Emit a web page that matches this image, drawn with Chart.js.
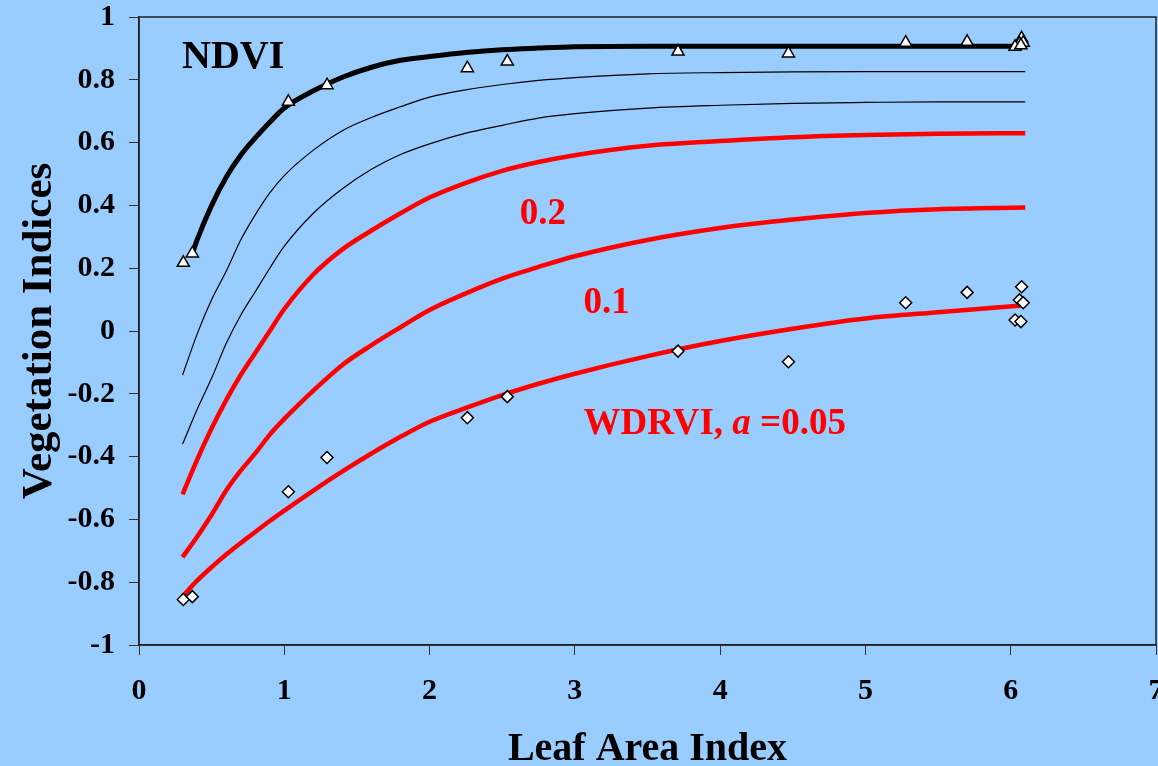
<!DOCTYPE html>
<html>
<head>
<meta charset="utf-8">
<title>Vegetation indices vs LAI</title>
<script src="https://cdn.jsdelivr.net/npm/chart.js@4.4.1/dist/chart.umd.min.js"></script>
<style>
  html, body { margin: 0; padding: 0; background: #99ccff; overflow: hidden; }
  #wrap { width: 1158px; height: 766px; position: relative; }
</style>
</head>
<body>
<div id="wrap"><canvas id="chart"></canvas></div>
<script>
// LAI grid used for the model curves
const laiGrid = [0.3, 0.4, 0.5, 0.6, 0.7, 0.8, 0.9, 1.0, 1.2, 1.4, 1.6, 1.8, 2.0, 2.25, 2.5, 2.75, 3.0, 3.5, 4.0, 4.5, 5.0, 5.5, 6.1];
const ndviLai = [0.37, 0.4, 0.5, 0.6, 0.7, 0.8, 0.9, 1.0, 1.2, 1.4, 1.6, 1.8, 2.0, 2.25, 2.5, 2.75, 3.0, 3.5, 4.0, 5.0, 6.1];

// model curves
const ndviCurve = [0.25, 0.29, 0.40, 0.49, 0.56, 0.615, 0.665, 0.71, 0.765, 0.808, 0.84, 0.862, 0.874, 0.887, 0.896, 0.901, 0.905, 0.907, 0.907, 0.907, 0.907];
const thinUpper = [-0.14, -0.01, 0.10, 0.19, 0.29, 0.37, 0.44, 0.495, 0.576, 0.638, 0.68, 0.714, 0.745, 0.768, 0.785, 0.798, 0.807, 0.819, 0.823, 0.825, 0.826, 0.826, 0.826];
const thinLower = [-0.36, -0.25, -0.15, -0.04, 0.05, 0.125, 0.20, 0.27, 0.375, 0.453, 0.515, 0.562, 0.596, 0.63, 0.655, 0.678, 0.692, 0.71, 0.719, 0.725, 0.728, 0.73, 0.73];
const wdrvi02 = [-0.52, -0.41, -0.31, -0.22, -0.14, -0.07, 0.0, 0.07, 0.18, 0.26, 0.32, 0.375, 0.425, 0.472, 0.51, 0.538, 0.56, 0.59, 0.605, 0.617, 0.624, 0.628, 0.63];
const wdrvi01 = [-0.72, -0.655, -0.585, -0.508, -0.445, -0.39, -0.33, -0.28, -0.19, -0.108, -0.045, 0.012, 0.067, 0.12, 0.167, 0.204, 0.238, 0.29, 0.328, 0.355, 0.376, 0.388, 0.393];
const wdrvi005 = [-0.845, -0.795, -0.752, -0.712, -0.675, -0.64, -0.605, -0.572, -0.508, -0.447, -0.39, -0.337, -0.289, -0.245, -0.204, -0.168, -0.136, -0.08, -0.032, 0.007, 0.04, 0.06, 0.082];

// observations
const obsLai = [0.305, 0.367, 1.028, 1.294, 2.26, 2.535, 3.71, 4.47, 5.277, 5.70, 6.075, 6.06, 6.086, 6.03, 6.07];
const ndviObs = [0.217, 0.247, 0.730, 0.783, 0.837, 0.858, 0.890, 0.884, 0.918, 0.921, 0.932, 0.915, 0.918, 0.905, 0.910];
const wdrviObs = [-0.855, -0.846, -0.512, -0.403, -0.276, -0.209, -0.064, -0.098, 0.090, 0.123, 0.141, 0.099, 0.090, 0.035, 0.030];

// axes
const xTickValues = [0, 1, 2, 3, 4, 5, 6, 7];
const xTickLabels = ["0", "1", "2", "3", "4", "5", "6", "7"];
const yTickValues = [-1, -0.8, -0.6, -0.4, -0.2, 0, 0.2, 0.4, 0.6, 0.8, 1];
const yTickLabels = ["-1", "-0.8", "-0.6", "-0.4", "-0.2", "0", "0.2", "0.4", "0.6", "0.8", "1"];

const FONT = "'Liberation Serif', 'Times New Roman', serif";

function pts(xs, ys) {
  return ys.map((y, i) => ({ x: xs[i], y: y }));
}

function curve(xs, ys, color, width) {
  return {
    data: pts(xs, ys),
    showLine: true,
    borderColor: color,
    borderWidth: width,
    pointRadius: 0,
    cubicInterpolationMode: "monotone",
    fill: false
  };
}

// text labels inside the plot, anchored in data units
const annotations = [
  { parts: [{ t: "NDVI", style: "bold" }], x: 0.296, y: 0.838, size: 40, color: "#000000" },
  { parts: [{ t: "0.2", style: "bold" }], x: 2.62, y: 0.341, size: 37, color: "#ff0000" },
  { parts: [{ t: "0.1", style: "bold" }], x: 3.06, y: 0.057, size: 37, color: "#ff0000" },
  { parts: [{ t: "WDRVI, ", style: "bold" }, { t: "a", style: "italic bold" }, { t: " =0.05", style: "bold" }], x: 3.06, y: -0.328, size: 37, color: "#ff0000" }
];

const backgroundPlugin = {
  id: "bg",
  beforeDraw(chart) {
    const ctx = chart.ctx;
    ctx.save();
    ctx.fillStyle = "#99ccff";
    ctx.fillRect(0, 0, chart.width, chart.height);
    ctx.restore();
  },
  afterDraw(chart) {
    const { ctx, chartArea: a, scales } = chart;
    ctx.save();
    // frame round the plot area
    ctx.strokeStyle = "#222222";
    ctx.lineWidth = 1.5;
    ctx.strokeRect(a.left, a.top, a.right - a.left, a.bottom - a.top);
    // labels
    ctx.textBaseline = "alphabetic";
    ctx.textAlign = "left";
    annotations.forEach((an) => {
      let px = scales.x.getPixelForValue(an.x);
      const py = scales.y.getPixelForValue(an.y);
      ctx.fillStyle = an.color;
      an.parts.forEach((p) => {
        ctx.font = p.style + " " + an.size + "px " + FONT;
        ctx.fillText(p.t, px, py);
        px += ctx.measureText(p.t).width;
      });
    });
    ctx.restore();
  }
};

new Chart(document.getElementById("chart"), {
  type: "scatter",
  data: {
    datasets: [
      {
        data: pts(obsLai, ndviObs),
        pointStyle: "triangle",
        pointRadius: 7,
        backgroundColor: "#ffffff",
        borderColor: "#000000",
        borderWidth: 1.5,
        clip: false
      },
      {
        data: pts(obsLai, wdrviObs),
        pointStyle: "rectRot",
        pointRadius: 6,
        backgroundColor: "#ffffff",
        borderColor: "#000000",
        borderWidth: 1.5,
        clip: false
      },
      curve(ndviLai, ndviCurve, "#000000", 5),
      curve(laiGrid, thinUpper, "#000000", 1.2),
      curve(laiGrid, thinLower, "#000000", 1.2),
      curve(laiGrid, wdrvi02, "#ff0000", 4.5),
      curve(laiGrid, wdrvi01, "#ff0000", 4.5),
      curve(laiGrid, wdrvi005, "#ff0000", 4.5)
    ]
  },
  options: {
    responsive: true,
    maintainAspectRatio: false,
    devicePixelRatio: 1,
    animation: false,
    layout: { autoPadding: false, padding: { top: 17, right: 2, left: 0, bottom: 0 } },
    plugins: {
      legend: { display: false },
      tooltip: { enabled: false }
    },
    scales: {
      x: {
        type: "linear",
        min: 0,
        max: 7,
        afterBuildTicks: (s) => { s.ticks = xTickValues.map((v) => ({ value: v })); },
        afterFit: (s) => { s.height = 121; s.paddingLeft = 0; s.paddingRight = 0; },
        grid: { display: true, drawOnChartArea: false, drawTicks: true, tickLength: 10, color: "#333333", lineWidth: 1 },
        border: { display: true, color: "#222222", width: 1.5 },
        ticks: {
          autoSkip: false,
          maxRotation: 0,
          padding: 18,
          color: "#000000",
          font: { family: FONT, size: 30, weight: "bold" },
          callback: (v, i) => xTickLabels[i]
        },
        title: {
          display: true,
          text: "Leaf Area Index",
          color: "#000000",
          font: { family: FONT, size: 40, weight: "bold", lineHeight: 0.8 },
          padding: { top: 0, bottom: 0 }
        }
      },
      y: {
        type: "linear",
        min: -1,
        max: 1,
        afterBuildTicks: (s) => { s.ticks = yTickValues.map((v) => ({ value: v })); },
        afterFit: (s) => { s.width = 139; s.paddingTop = 0; s.paddingBottom = 0; },
        grid: { display: true, drawOnChartArea: false, drawTicks: true, tickLength: 10, color: "#333333", lineWidth: 1 },
        border: { display: true, color: "#222222", width: 1.5 },
        ticks: {
          autoSkip: false,
          padding: 14,
          color: "#000000",
          font: { family: FONT, size: 30, weight: "bold" },
          callback: (v, i) => yTickLabels[i]
        },
        title: {
          display: true,
          text: "Vegetation Indices",
          color: "#000000",
          font: { family: FONT, size: 43, weight: "bold", lineHeight: 1.2 },
          padding: { top: 14, bottom: 0 }
        }
      }
    }
  },
  plugins: [backgroundPlugin]
});
</script>
</body>
</html>
